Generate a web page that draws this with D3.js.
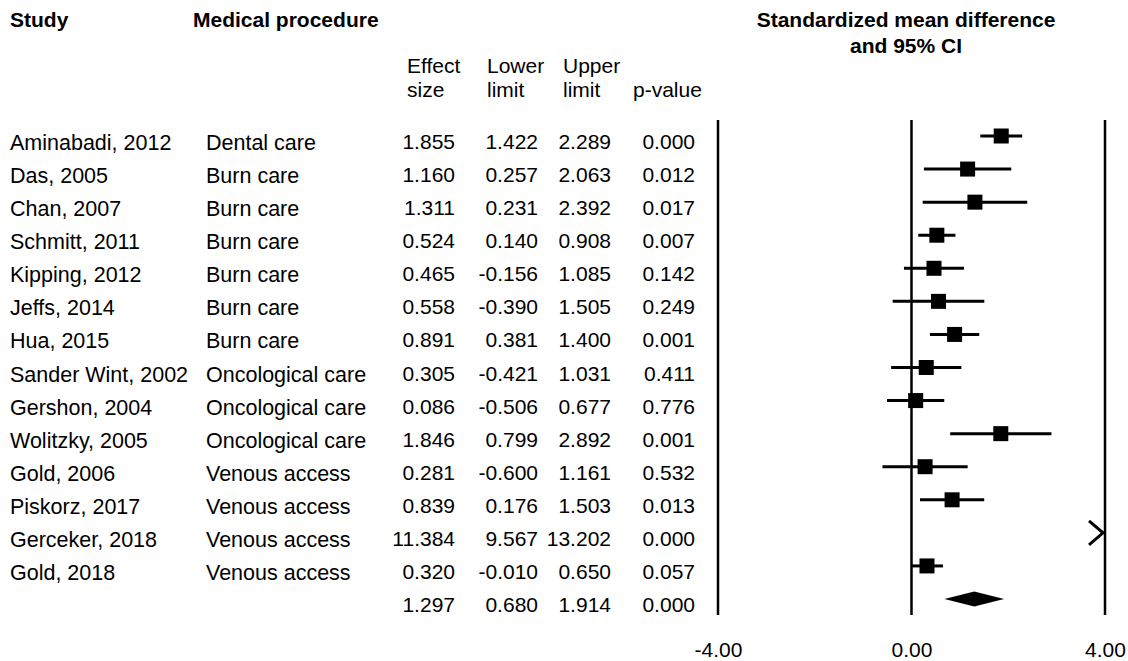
<!DOCTYPE html>
<html>
<head>
<meta charset="utf-8">
<script src="https://cdn.jsdelivr.net/npm/d3@7"></script>
<style>
  html, body { margin: 0; padding: 0; background: #fff; }
  svg { display: block; font-family: "Liberation Sans", Arial, sans-serif; }
</style>
</head>
<body>
<svg id="chart" width="1128" height="661"></svg>
<script>
// ---- Data ----
const studies = ["Aminabadi, 2012", "Das, 2005", "Chan, 2007", "Schmitt, 2011", "Kipping, 2012",
  "Jeffs, 2014", "Hua, 2015", "Sander Wint, 2002", "Gershon, 2004", "Wolitzky, 2005",
  "Gold, 2006", "Piskorz, 2017", "Gerceker, 2018", "Gold, 2018"];
const procedures = ["Dental care", "Burn care", "Burn care", "Burn care", "Burn care",
  "Burn care", "Burn care", "Oncological care", "Oncological care", "Oncological care",
  "Venous access", "Venous access", "Venous access", "Venous access"];
const effectSize = [1.855, 1.160, 1.311, 0.524, 0.465, 0.558, 0.891, 0.305, 0.086, 1.846, 0.281, 0.839, 11.384, 0.320];
const lowerLimit = [1.422, 0.257, 0.231, 0.140, -0.156, -0.390, 0.381, -0.421, -0.506, 0.799, -0.600, 0.176, 9.567, -0.010];
const upperLimit = [2.289, 2.063, 2.392, 0.908, 1.085, 1.505, 1.400, 1.031, 0.677, 2.892, 1.161, 1.503, 13.202, 0.650];
const pValues = ["0.000", "0.012", "0.017", "0.007", "0.142", "0.249", "0.001", "0.411", "0.776", "0.001", "0.532", "0.013", "0.000", "0.057"];
const summary = { effect: 1.297, lower: 0.680, upper: 1.914, p: "0.000" };
const axisTicks = [-4, 0, 4];

// ---- Layout ----
const svg = d3.select("#chart");
const fsName = 21.5;
const fs = 21;
const x = d3.scaleLinear().domain([-4, 4]).range([718, 1105]);
const nRows = studies.length + 1;
const y = d3.scaleLinear().domain([0, nRows - 1]).range([136, 599]);
const textOff = 13;

// headers
const hdr = svg.append("g").attr("font-weight", "bold").attr("font-size", 21).attr("fill", "#000");
hdr.append("text").attr("x", 10).attr("y", 27).text("Study");
hdr.append("text").attr("x", 193).attr("y", 27).text("Medical procedure");
hdr.append("text").attr("x", 906).attr("y", 27).attr("text-anchor", "middle").text("Standardized mean difference");
hdr.append("text").attr("x", 906).attr("y", 53).attr("text-anchor", "middle").text("and 95% CI");

const sub = svg.append("g").attr("font-size", fs).attr("fill", "#000");
const subHeads = [
  { x: 407, l1: "Effect", l2: "size" },
  { x: 487, l1: "Lower", l2: "limit" },
  { x: 563, l1: "Upper", l2: "limit" },
  { x: 633, l1: "", l2: "p-value" }
];
subHeads.forEach(h => {
  sub.append("text").attr("x", h.x).attr("y", 73).text(h.l1);
  sub.append("text").attr("x", h.x).attr("y", 97).text(h.l2);
});

// table rows
const rows = svg.append("g").attr("font-size", fs).attr("fill", "#000");
studies.forEach((s, i) => {
  const yy = y(i) + textOff;
  rows.append("text").attr("x", 10).attr("y", yy + 1).attr("font-size", fsName).text(s);
  rows.append("text").attr("x", 206).attr("y", yy + 1).attr("font-size", fsName).text(procedures[i]);
  rows.append("text").attr("x", 455).attr("y", yy).attr("text-anchor", "end").text(effectSize[i].toFixed(3));
  rows.append("text").attr("x", 538).attr("y", yy).attr("text-anchor", "end").text(lowerLimit[i].toFixed(3));
  rows.append("text").attr("x", 611).attr("y", yy).attr("text-anchor", "end").text(upperLimit[i].toFixed(3));
  rows.append("text").attr("x", 695).attr("y", yy).attr("text-anchor", "end").text(pValues[i]);
});
const si = nRows - 1;
rows.append("text").attr("x", 455).attr("y", y(si) + textOff).attr("text-anchor", "end").text(summary.effect.toFixed(3));
rows.append("text").attr("x", 538).attr("y", y(si) + textOff).attr("text-anchor", "end").text(summary.lower.toFixed(3));
rows.append("text").attr("x", 611).attr("y", y(si) + textOff).attr("text-anchor", "end").text(summary.upper.toFixed(3));
rows.append("text").attr("x", 695).attr("y", y(si) + textOff).attr("text-anchor", "end").text(summary.p);

// vertical reference lines
const plot = svg.append("g");
plot.selectAll("line.ref").data(axisTicks).enter().append("line")
  .attr("class", "ref")
  .attr("x1", d => x(d)).attr("x2", d => x(d))
  .attr("y1", 120).attr("y2", 615)
  .attr("stroke", "#000").attr("stroke-width", 2.5);

// CI lines and squares
const [xmin, xmax] = x.domain();
const sq = 15;
studies.forEach((s, i) => {
  const e = effectSize[i], lo = lowerLimit[i], hi = upperLimit[i];
  const yy = y(i);
  if (lo > xmax) {
    // off-scale to the right: arrow marker
    const xr = x(xmax) - 2;
    plot.append("path")
      .attr("d", `M${xr - 14},${yy - 12}L${xr},${yy}L${xr - 14},${yy + 12}`)
      .attr("fill", "none").attr("stroke", "#000").attr("stroke-width", 3);
    return;
  }
  plot.append("line")
    .attr("x1", x(Math.max(lo, xmin))).attr("x2", x(Math.min(hi, xmax)))
    .attr("y1", yy).attr("y2", yy)
    .attr("stroke", "#000").attr("stroke-width", 3);
  plot.append("rect")
    .attr("x", x(e) - sq / 2).attr("y", yy - sq / 2)
    .attr("width", sq).attr("height", sq)
    .attr("fill", "#000");
});

// summary diamond
const ys = y(si);
plot.append("path")
  .attr("d", `M${x(summary.lower)},${ys}L${x(summary.effect)},${ys - 7.5}L${x(summary.upper)},${ys}L${x(summary.effect)},${ys + 7.5}Z`)
  .attr("fill", "#000");

// axis labels
const axis = d3.axisBottom(x).tickValues(axisTicks).tickFormat(d => d.toFixed(2)).tickSize(0).tickPadding(10);
const ag = svg.append("g").attr("transform", "translate(0,632)").call(axis);
ag.select(".domain").remove();
ag.selectAll("text").attr("font-size", fs).attr("font-family", "\"Liberation Sans\", Arial, sans-serif").attr("fill", "#000");
</script>
</body>
</html>
